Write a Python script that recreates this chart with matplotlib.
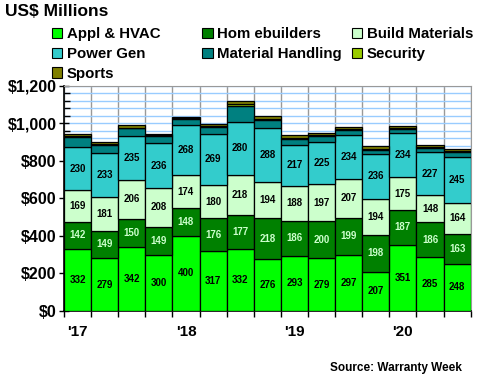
import numpy as np
import matplotlib.pyplot as plt
from matplotlib.patches import Patch

plt.rcParams['font.family'] = ['Liberation Sans', 'DejaVu Sans']

# quarters 2017Q1 .. 2020Q3
quarters = ["17Q1", "17Q2", "17Q3", "17Q4", "18Q1", "18Q2", "18Q3", "18Q4",
            "19Q1", "19Q2", "19Q3", "19Q4", "20Q1", "20Q2", "20Q3"]
year_labels = ["'17", "'18", "'19", "'20"]

appl_hvac = [332, 279, 342, 300, 400, 317, 332, 276, 293, 279, 297, 207, 351, 285, 248]
homebuilders = [142, 149, 150, 149, 148, 176, 177, 218, 186, 200, 199, 198, 187, 186, 163]
build_materials = [169, 181, 206, 208, 174, 180, 218, 194, 188, 197, 207, 194, 175, 148, 164]
power_gen = [230, 233, 235, 236, 268, 269, 280, 288, 217, 225, 234, 236, 234, 227, 245]
material_handling = [55, 45, 40, 38, 35, 38, 88, 45, 35, 30, 28, 25, 23, 25, 25]
security = [5, 5, 5, 5, 4, 5, 7, 5, 5, 5, 5, 5, 6, 5, 10]
sports = [8, 10, 15, 10, 8, 10, 18, 12, 12, 13, 13, 13, 10, 8, 8]

series = [
    ("Appl & HVAC", appl_hvac, "#00ff00", True, "black"),
    ("Hom ebuilders", homebuilders, "#008000", True, "#ccffcc"),
    ("Build Materials", build_materials, "#ccffcc", True, "black"),
    ("Power Gen", power_gen, "#33cccc", True, "black"),
    ("Material Handling", material_handling, "#008080", False, None),
    ("Security", security, "#99cc00", False, None),
    ("Sports", sports, "#808000", False, None),
]

fig = plt.figure(figsize=(4.8, 3.8), dpi=100)
ax = fig.add_axes([0.1333, 0.1824, 0.8473, 0.5913])

x = np.arange(len(quarters))
bottom = np.zeros(len(quarters))
handles = []
for name, vals, color, labelled, tcolor in series:
    vals = np.array(vals, dtype=float)
    bars = ax.bar(x, vals, width=1.0, bottom=bottom, color=color,
                  edgecolor="black", linewidth=0.9, zorder=3)
    if labelled:
        ax.bar_label(bars, labels=[f"{int(v)}" for v in vals], label_type="center",
                     fontsize=7, fontweight="bold", color=tcolor, zorder=4)
    handles.append(Patch(facecolor=color, edgecolor="black", linewidth=0.8, label=name))
    bottom += vals

ax.set_xlim(-0.5, len(quarters) - 0.5)
ax.set_ylim(0, 1200)

ax.set_yticks(np.arange(0, 1201, 200))
ax.set_yticks(np.arange(0, 1201, 40), minor=True)
ax.set_yticklabels([f"${v:,}" for v in range(0, 1201, 200)],
                   fontsize=11.5, fontweight="bold")
ax.tick_params(axis="y", which="major", direction="inout", length=7, width=1, pad=2)
ax.tick_params(axis="y", which="minor", direction="in", length=4, width=1)

ax.set_xticks([0, 4, 8, 12])
ax.set_xticklabels(year_labels, fontsize=11, fontweight="bold")
ax.set_xticks(np.arange(-0.5, len(quarters), 1), minor=True)
ax.tick_params(axis="x", which="major", length=0, pad=10)
ax.tick_params(axis="x", which="minor", direction="out", length=4, width=1)

ax.grid(axis="y", which="both", color="#99ccff", linewidth=1)
ax.grid(axis="x", which="minor", color="#999999", linewidth=1)
ax.set_axisbelow(True)

ax.spines["top"].set_color("#999999")
ax.spines["right"].set_color("#999999")
ax.spines["left"].set_linewidth(1.2)
ax.spines["bottom"].set_linewidth(1.2)

fig.text(0.01, 0.99, "US$ Millions", fontsize=12.5, fontweight="bold", va="top")

# legend laid out row by row, one legend per column
columns = [[0, 3, 6], [1, 4], [2, 5]]
col_x = [0.108, 0.421, 0.733]
for cx, idx in zip(col_x, columns):
    leg = fig.legend([handles[i] for i in idx], [handles[i].get_label() for i in idx],
                     loc="upper left", bbox_to_anchor=(cx, 0.928),
                     frameon=False, handlelength=0.7, handleheight=0.7,
                     handletextpad=0.3, labelspacing=0.38,
                     borderaxespad=0, borderpad=0,
                     prop={"size": 10.8, "weight": "bold"})

fig.text(0.963, 0.015, "Source: Warranty Week", fontsize=8.5, fontweight="bold",
         ha="right", va="bottom")

fig.savefig("out.png", dpi=100)
